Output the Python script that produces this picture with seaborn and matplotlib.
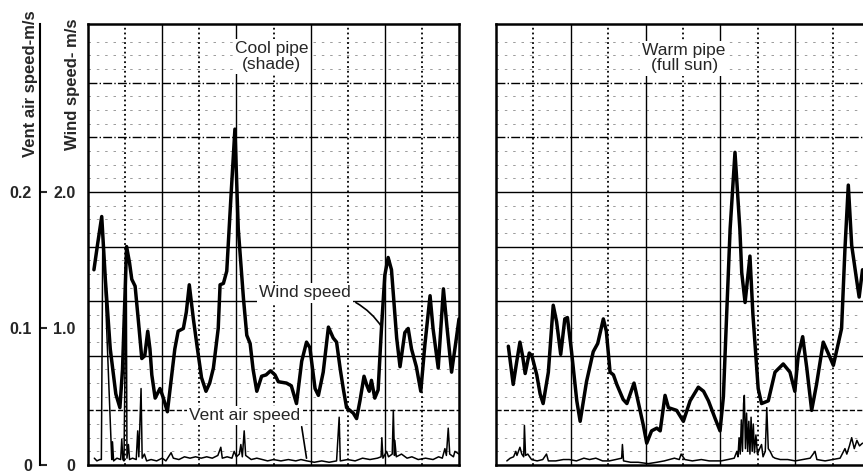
import numpy as np
import pandas as pd
import matplotlib
matplotlib.use("Agg")
import matplotlib.pyplot as plt
import seaborn as sns

# time runs in chart divisions (10 per panel); wind in m/s, vent air speed in m/s
cool_wind_t = [0.16, 0.26, 0.37, 0.47, 0.60, 0.75, 0.86, 0.93, 1.04, 1.12, 1.18, 1.27, 1.36, 1.45,
               1.53, 1.61, 1.67, 1.72, 1.81, 1.94, 2.02, 2.14, 2.24, 2.34, 2.43, 2.57, 2.65, 2.73,
               2.84, 2.95, 3.06, 3.18, 3.28, 3.38, 3.51, 3.56, 3.65, 3.74, 3.85, 3.96, 4.05, 4.19,
               4.28, 4.37, 4.45, 4.55, 4.68, 4.80, 4.92, 5.04, 5.13, 5.35, 5.48, 5.62, 5.76, 5.89,
               5.98, 6.12, 6.21, 6.34, 6.48, 6.61, 6.70, 6.80, 6.88, 6.97, 7.15, 7.24, 7.33, 7.44,
               7.52, 7.58, 7.64, 7.73, 7.82, 7.91, 8.00, 8.09, 8.18, 8.32, 8.41, 8.54, 8.63, 8.72,
               8.85, 8.97, 9.08, 9.22, 9.30, 9.44, 9.58, 9.68, 9.80, 9.93, 10.0]
cool_wind = [1.43, 1.62, 1.82, 1.35, 0.85, 0.52, 0.42, 0.70, 1.60, 1.48, 1.36, 1.31, 1.05, 0.78,
             0.80, 0.98, 0.85, 0.66, 0.49, 0.56, 0.50, 0.39, 0.62, 0.85, 0.98, 1.00, 1.12, 1.32,
             1.07, 0.85, 0.64, 0.54, 0.60, 0.71, 1.00, 1.32, 1.33, 1.42, 1.95, 2.46, 1.73, 1.22,
             0.95, 0.89, 0.70, 0.54, 0.65, 0.66, 0.69, 0.66, 0.61, 0.60, 0.58, 0.45, 0.76, 0.90,
             0.86, 0.56, 0.51, 0.68, 1.01, 0.93, 0.90, 0.70, 0.56, 0.42, 0.38, 0.34, 0.47, 0.65,
             0.58, 0.54, 0.62, 0.49, 0.55, 1.00, 1.39, 1.52, 1.43, 0.93, 0.72, 0.97, 1.00, 0.85,
             0.72, 0.54, 0.88, 1.24, 1.00, 0.71, 1.29, 1.00, 0.68, 0.93, 1.07]

cool_vent_t = [0.17, 0.24, 0.32, 0.36, 0.40, 0.64, 0.66, 0.69, 0.78, 0.88, 0.91, 0.94, 0.97, 1.03,
               1.05, 1.09, 1.12, 1.20, 1.30, 1.34, 1.37, 1.43, 1.46, 1.52, 1.58, 1.70, 1.85, 2.00,
               2.10, 2.24, 2.30, 2.45, 2.60, 2.75, 2.90, 3.05, 3.20, 3.35, 3.50, 3.58, 3.62, 3.75,
               3.88, 3.94, 4.00, 4.08, 4.12, 4.16, 4.21, 4.25, 4.30, 4.40, 4.55, 4.70, 4.84, 5.00,
               5.20, 5.40, 5.60, 5.74, 5.90, 6.10, 6.30, 6.50, 6.70, 6.77, 6.80, 7.00, 7.20, 7.40,
               7.60, 7.80, 7.90, 7.92, 7.95, 8.05, 8.10, 8.20, 8.23, 8.26, 8.27, 8.31, 8.45, 8.60,
               8.73, 8.90, 9.10, 9.30, 9.45, 9.55, 9.62, 9.66, 9.71, 9.75, 9.85, 9.89, 10.0]
cool_vent = [0.005, 0.003, 0.004, 0.004, 0.172, 0.004, 0.017, 0.003, 0.005, 0.004, 0.019, 0.004,
             0.003, 0.155, 0.005, 0.015, 0.004, 0.005, 0.004, 0.025, 0.006, 0.056, 0.005, 0.008,
             0.003, 0.004, 0.003, 0.005, 0.003, 0.009, 0.005, 0.004, 0.006, 0.005, 0.006, 0.005,
             0.006, 0.005, 0.007, 0.013, 0.005, 0.006, 0.005, 0.010, 0.006, 0.008, 0.015, 0.006,
             0.025, 0.007, 0.006, 0.004, 0.005, 0.004, 0.003, 0.004, 0.003, 0.004, 0.003, 0.004,
             0.003, 0.002, 0.003, 0.002, 0.003, 0.035, 0.003, 0.004, 0.003, 0.005, 0.004, 0.005,
             0.006, 0.020, 0.005, 0.010, 0.006, 0.008, 0.040, 0.007, 0.018, 0.006, 0.008, 0.005,
             0.006, 0.004, 0.005, 0.004, 0.006, 0.005, 0.012, 0.007, 0.027, 0.008, 0.006, 0.010,
             0.008]

warm_wind_t = [0.33, 0.46, 0.55, 0.64, 0.71, 0.78, 0.89, 0.96, 1.09, 1.18, 1.26, 1.40, 1.53, 1.62,
               1.73, 1.84, 1.91, 2.02, 2.16, 2.25, 2.42, 2.60, 2.72, 2.87, 2.95, 3.05, 3.14, 3.23,
               3.40, 3.50, 3.69, 3.78, 3.94, 4.03, 4.16, 4.30, 4.39, 4.52, 4.61, 4.83, 5.01, 5.19,
               5.41, 5.55, 5.68, 5.86, 5.99, 6.08, 6.17, 6.26, 6.39, 6.52, 6.57, 6.66, 6.79, 6.87,
               7.01, 7.10, 7.28, 7.46, 7.68, 7.86, 7.99, 8.08, 8.20, 8.31, 8.44, 8.57, 8.75, 8.88,
               9.02, 9.20, 9.24, 9.33, 9.42, 9.51, 9.64, 9.71, 9.80]
warm_wind = [0.87, 0.59, 0.75, 0.90, 0.80, 0.67, 0.82, 0.80, 0.66, 0.52, 0.45, 0.68, 1.17, 1.05,
             0.81, 1.07, 1.08, 0.83, 0.47, 0.32, 0.61, 0.83, 0.89, 1.07, 0.98, 0.68, 0.66, 0.59,
             0.48, 0.45, 0.60, 0.49, 0.29, 0.16, 0.25, 0.27, 0.25, 0.51, 0.42, 0.40, 0.32, 0.47,
             0.57, 0.54, 0.47, 0.34, 0.25, 0.50, 1.12, 1.73, 2.29, 1.73, 1.41, 1.19, 1.53, 1.10,
             0.56, 0.45, 0.47, 0.68, 0.74, 0.68, 0.54, 0.80, 0.94, 0.71, 0.40, 0.59, 0.90, 0.82,
             0.73, 0.95, 1.00, 1.58, 2.05, 1.61, 1.36, 1.23, 1.43]

warm_vent_t = [0.29, 0.38, 0.47, 0.53, 0.56, 0.64, 0.69, 0.74, 0.76, 0.79, 0.85, 0.95, 1.10, 1.25,
               1.35, 1.40, 1.60, 1.80, 1.96, 2.15, 2.35, 2.50, 2.67, 2.85, 3.03, 3.20, 3.36, 3.38,
               3.41, 3.60, 3.80, 4.07, 4.30, 4.50, 4.77, 4.90, 4.95, 5.05, 5.25, 5.49, 5.70, 6.02,
               6.20, 6.37, 6.44, 6.47, 6.50, 6.53, 6.56, 6.59, 6.62, 6.64, 6.67, 6.70, 6.73, 6.76,
               6.79, 6.82, 6.85, 6.88, 6.91, 6.95, 6.99, 7.05, 7.10, 7.14, 7.20, 7.24, 7.28, 7.33,
               7.40, 7.46, 7.60, 7.80, 8.00, 8.20, 8.40, 8.53, 8.58, 8.80, 9.00, 9.20, 9.33, 9.38,
               9.45, 9.51, 9.58, 9.65, 9.72, 9.80]
warm_vent = [0.003, 0.005, 0.006, 0.010, 0.007, 0.013, 0.008, 0.006, 0.029, 0.007, 0.008, 0.004,
             0.003, 0.004, 0.008, 0.003, 0.003, 0.004, 0.004, 0.003, 0.005, 0.004, 0.005, 0.003,
             0.003, 0.004, 0.005, 0.015, 0.003, 0.002, 0.002, 0.001, 0.002, 0.003, 0.005, 0.004,
             0.008, 0.004, 0.003, 0.004, 0.003, 0.003, 0.004, 0.005, 0.010, 0.006, 0.020, 0.008,
             0.033, 0.010, 0.045, 0.051, 0.012, 0.038, 0.010, 0.032, 0.008, 0.035, 0.010, 0.030,
             0.009, 0.022, 0.008, 0.012, 0.015, 0.006, 0.010, 0.042, 0.012, 0.010, 0.006, 0.005,
             0.004, 0.004, 0.003, 0.004, 0.005, 0.010, 0.004, 0.003, 0.004, 0.005, 0.012, 0.008,
             0.014, 0.020, 0.012, 0.018, 0.014, 0.016]

sns.set_style("white")
plt.rcParams["font.family"] = ["Liberation Sans", "DejaVu Sans"]

W, H = 863, 474
fig = plt.figure(figsize=(W / 100, H / 100), dpi=100, facecolor="white")
ax1 = fig.add_axes([88 / W, 9 / H, 371 / W, 441 / H])
ax2 = fig.add_axes([496 / W, 9 / H, 374 / W, 441 / H])

hstyles = {0.4: "--", 0.8: "-", 1.2: "-", 1.6: "-", 2.0: "-", 2.4: "-.", 2.8: "-."}


def chart_paper(ax):
    ax.set_xlim(0, 10)
    ax.set_ylim(0, 3.23)
    for v in np.arange(0.1, 3.2, 0.1):
        if round(v * 10) % 4:
            ax.axhline(v, color="k", lw=0.6, ls=(0, (3, 7)), alpha=0.45, zorder=1)
    for v, ls in hstyles.items():
        ax.axhline(v, color="k", lw=1.0, ls=ls, zorder=1)
    for i in range(1, 10):
        if i % 2:
            ax.axvline(i, color="k", lw=1.3, ls=":", zorder=1)
        else:
            ax.axvline(i, color="k", lw=1.0, zorder=1)
    ax.set_xticks([])
    for s in ax.spines.values():
        s.set_color("k")
        s.set_linewidth(1.8)


chart_paper(ax1)
chart_paper(ax2)

box = dict(fc="white", ec="none", pad=1.5)

# wind speed traces
sns.lineplot(data=pd.DataFrame({"t": cool_wind_t, "w": cool_wind}), x="t", y="w",
             ax=ax1, color="k", lw=2.5, estimator=None, zorder=3)
sns.lineplot(data=pd.DataFrame({"t": warm_wind_t, "w": warm_wind}), x="t", y="w",
             ax=ax2, color="k", lw=2.5, estimator=None, zorder=3)

# vent air speed on its own scale (0.1 m/s vent = 1.0 m/s wind)
axv1 = ax1.twinx()
axv2 = ax2.twinx()
for axv in (axv1, axv2):
    axv.set_ylim(0, 0.323)
    axv.set_xlim(0, 10)
sns.lineplot(data=pd.DataFrame({"t": cool_vent_t, "v": cool_vent}), x="t", y="v",
             ax=axv1, color="k", lw=1.1, estimator=None)
sns.lineplot(data=pd.DataFrame({"t": warm_vent_t, "v": warm_vent}), x="t", y="v",
             ax=axv2, color="k", lw=1.1, estimator=None)

for ax in (ax1, ax2, axv1, axv2):
    ax.set_xlabel("")
    ax.set_ylabel("")

# wind axis ticks on the cool panel
ax1.set_yticks([0, 1.0, 2.0])
ax1.set_yticklabels(["0", "1.0", "2.0"], fontweight="bold")
ax1.tick_params(axis="y", length=0, pad=9, labelsize=11.5)
ax2.set_yticks([])

# vent axis as a separate line further left
axv1.yaxis.tick_left()
axv1.spines["left"].set_position(("outward", 34.5))
axv1.spines["left"].set_visible(True)
axv1.spines["left"].set_linewidth(1.5)
axv1.spines["left"].set_color("k")
for s in ("right", "top", "bottom"):
    axv1.spines[s].set_visible(False)
axv1.set_yticks([0, 0.1, 0.2])
axv1.set_yticklabels(["0", "0.1", "0.2"], fontweight="bold")
axv1.tick_params(axis="y", direction="in", length=5, width=1.5, pad=6, labelsize=11.5)
axv2.set_yticks([])
for s in axv2.spines.values():
    s.set_visible(False)

# annotations
ax1.text(4.95, 2.99, "Cool pipe\n(shade)", ha="center", va="center", fontsize=12.5,
         linespacing=1.05, bbox=box, zorder=5)
ax2.text(5.03, 2.98, "Warm pipe\n(full sun)", ha="center", va="center", fontsize=12.5,
         linespacing=1.05, bbox=box, zorder=5)
ax1.text(5.85, 1.26, "Wind speed", ha="center", va="center", fontsize=12.5, bbox=box, zorder=5)
ax1.annotate("", xy=(7.92, 1.01), xytext=(7.22, 1.19),
             arrowprops=dict(arrowstyle="-", color="k", lw=1.2,
                             connectionstyle="arc3,rad=-0.12", shrinkA=0, shrinkB=0))
ax1.text(4.23, 0.36, "Vent air speed", ha="center", va="center", fontsize=12.5,
         bbox=box, zorder=5)
ax1.annotate("", xy=(5.89, 0.05), xytext=(5.76, 0.28),
             arrowprops=dict(arrowstyle="-", color="k", lw=1.2, shrinkA=0, shrinkB=0))

fig.text(31 / W, 1 - 10 / H, "Vent air speed-m/s", rotation=90, ha="center", va="top",
         fontsize=12, fontweight="bold")
fig.text(72 / W, 1 - 18 / H, "Wind speed- m/s", rotation=90, ha="center", va="top",
         fontsize=12, fontweight="bold")

fig.savefig("out.png", dpi=100, facecolor="white")
